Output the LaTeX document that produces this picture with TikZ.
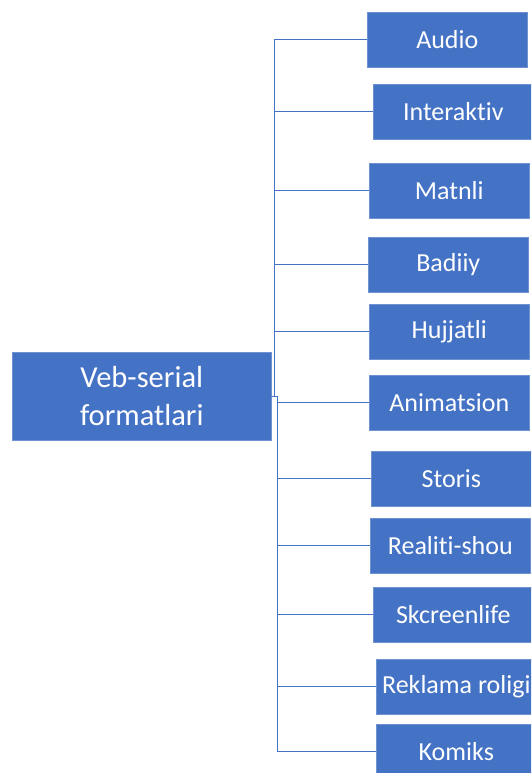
\documentclass[tikz,border=0pt]{standalone}
\usepackage{fontspec}
\setmainfont[RawFeature={-liga;-dlig;-calt;-clig}]{Carlito}
\definecolor{boxblue}{HTML}{4472C4}
\definecolor{edgeblue}{HTML}{6F92D2}
\tikzset{
  kid/.style={rectangle, fill=boxblue, draw=edgeblue, line width=0.6pt, text=white,
    minimum width=160pt, minimum height=55pt, inner sep=0pt, anchor=north west,
    font=\fontsize{26pt}{30pt}\selectfont},
  mainbox/.style={rectangle, fill=boxblue, draw=edgeblue, line width=0.6pt, text=white,
    minimum width=259pt, minimum height=88pt, inner sep=0pt, anchor=north west, align=center,
    font=\fontsize{30.5pt}{38pt}\selectfont},
  conn/.style={draw=boxblue, line width=1.2pt}
}
\begin{document}
\begin{tikzpicture}[x=1pt,y=-1pt]
\useasboundingbox (0,0) rectangle (531,773);
\begin{scope}
\clip (0,0) rectangle (531,773);
\node[mainbox] (main) at (12,352) {Veb-serial\\formatlari};
\node[kid] (c1) at (367,12) {Audio};
\node[kid] (c2) at (373,84) {Interaktiv};
\node[kid] (c3) at (369,163) {Matnli};
\node[kid] (c4) at (368,237) {Badiiy};
\node[kid] (c5) at (369,304) {Hujjatli};
\node[kid] (c6) at (369,375) {Animatsion};
\node[kid] (c7) at (371,451) {Storis};
\node[kid] (c8) at (370,518) {Realiti-shou};
\node[kid] (c9) at (373,587) {Skcreenlife};
\node[kid] (c10) at (376,659) {Reklama roligi};
\node[kid] (c11) at (376,724) {Komiks};
\foreach \c in {c1,c2,c3,c4,c5} {
  \draw[conn] (main.east) -- ++(3,0) |- (\c.west);
}
\foreach \c in {c6,c7,c8,c9,c10,c11} {
  \draw[conn] (main.east) -- ++(6,0) |- (\c.west);
}
\end{scope}
\end{tikzpicture}
\end{document}
